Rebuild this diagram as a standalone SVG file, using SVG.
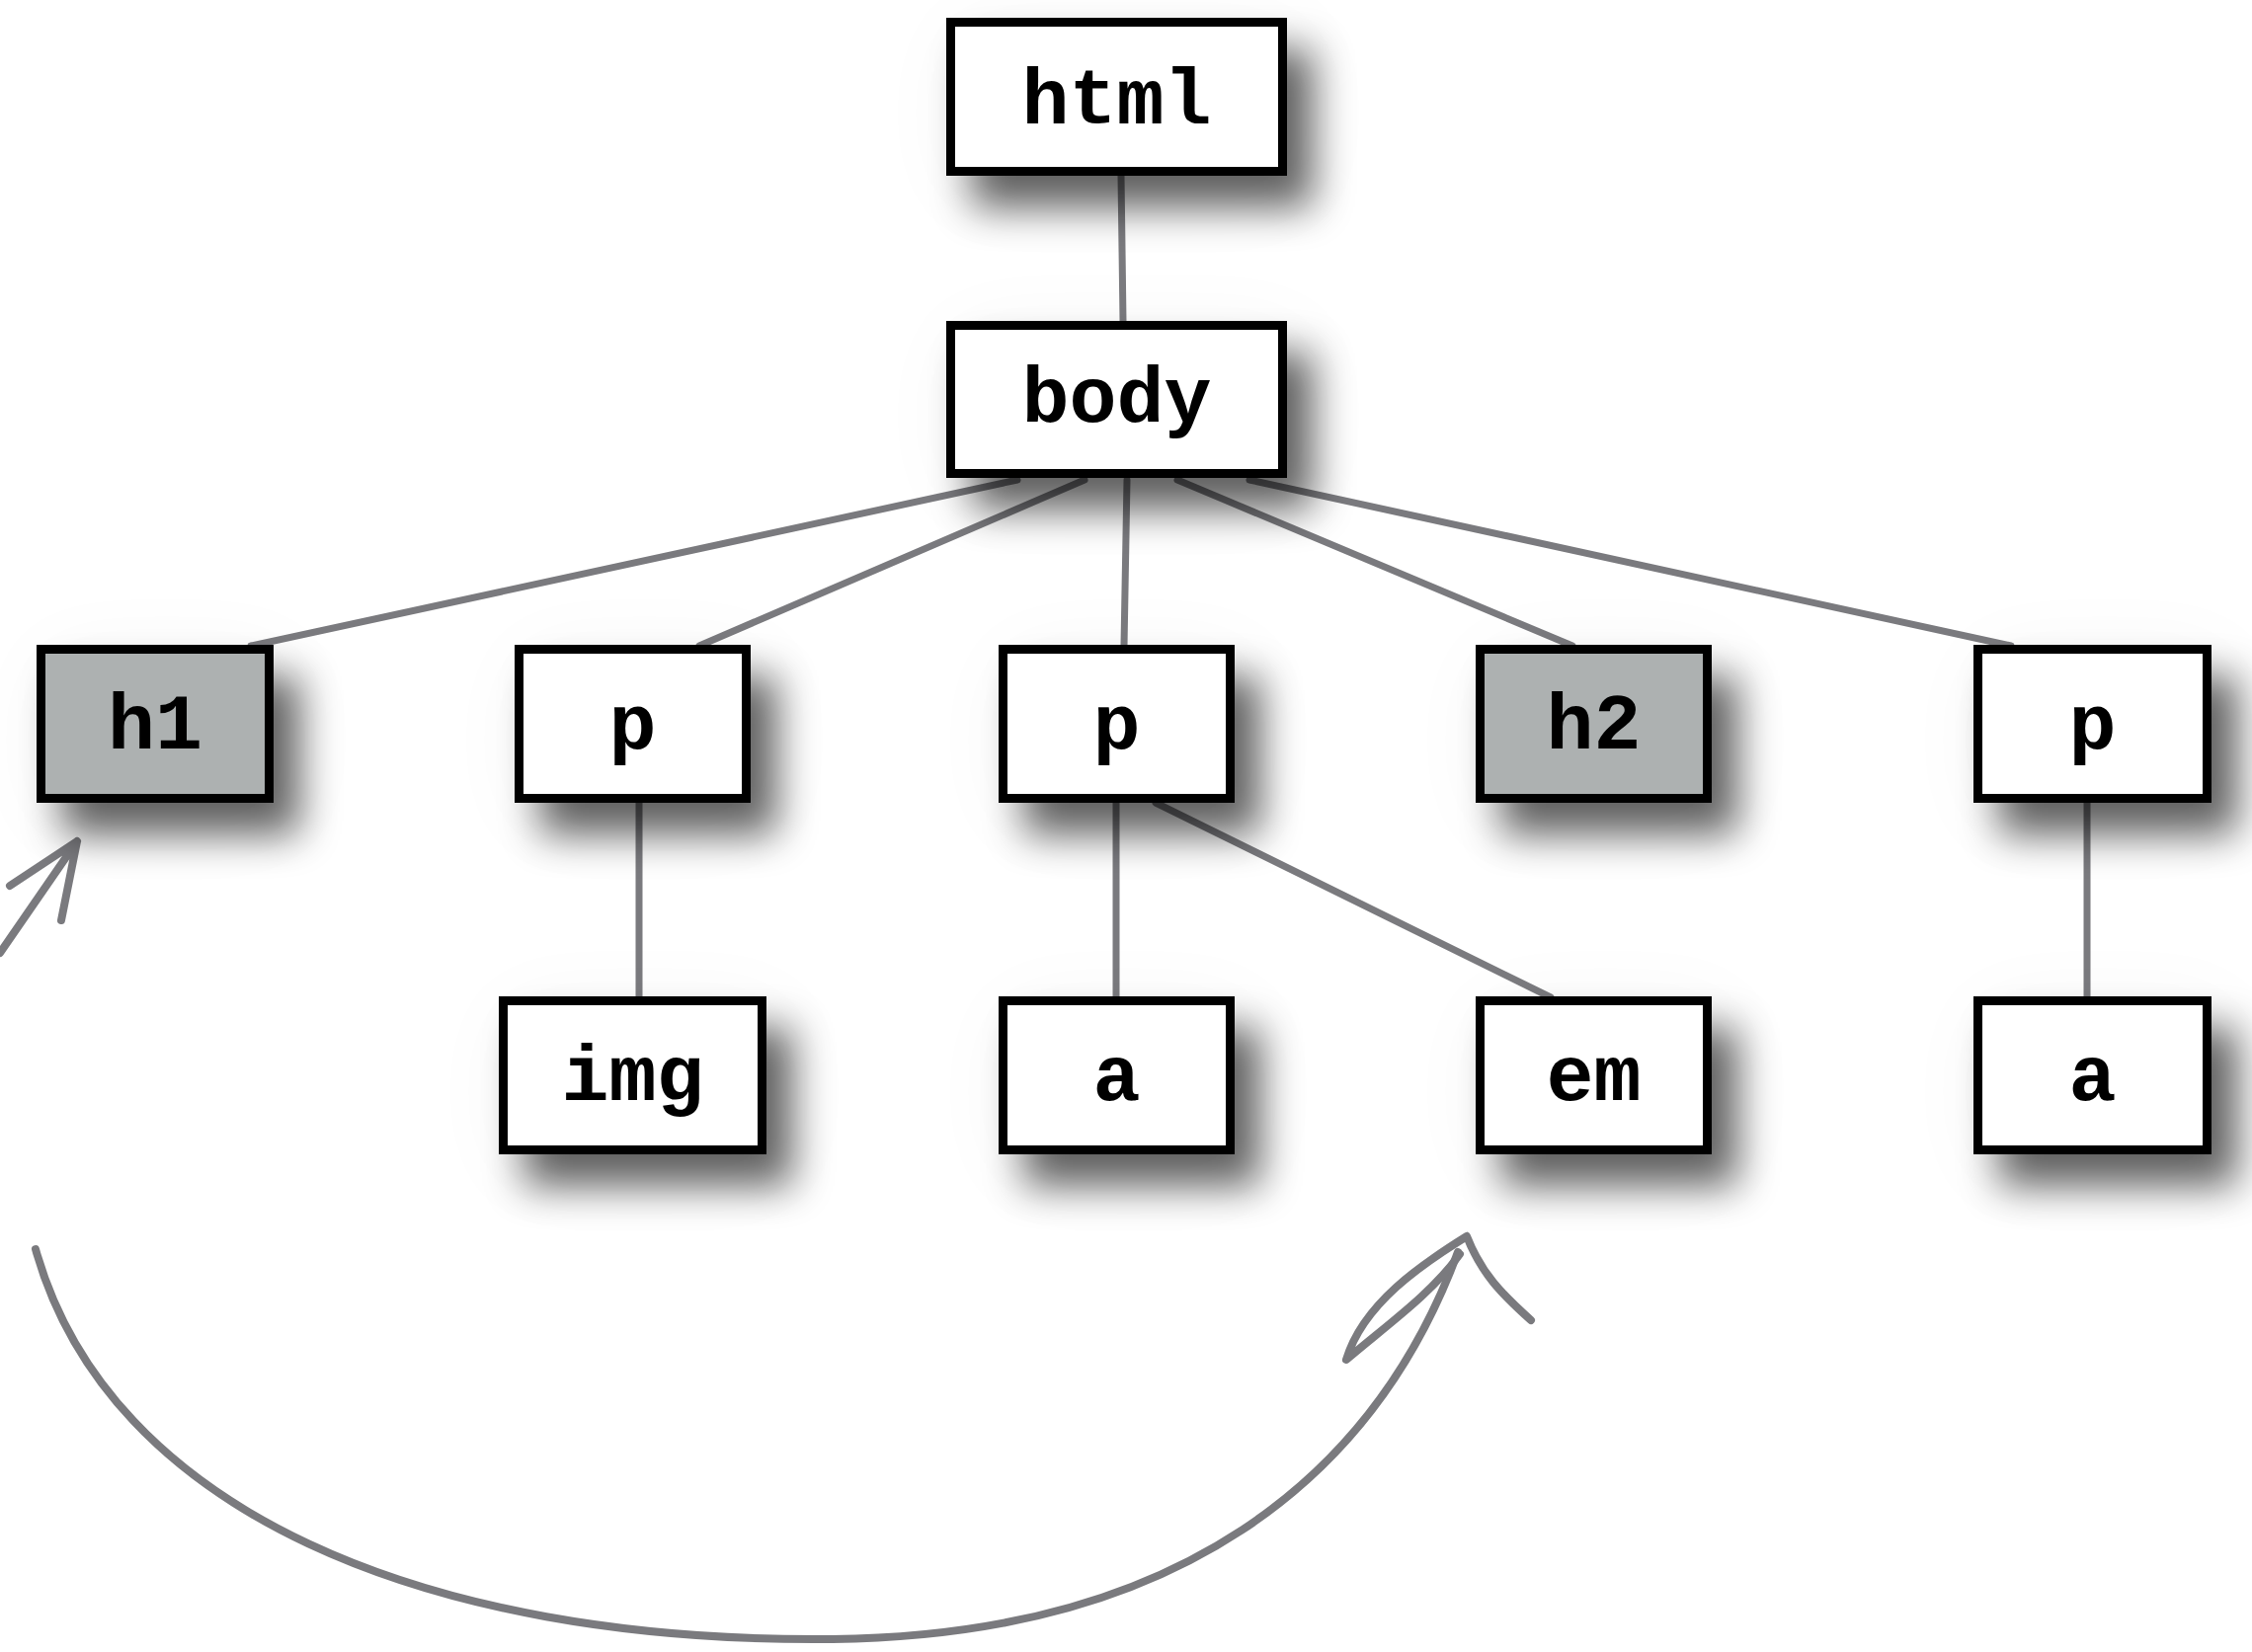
<svg xmlns="http://www.w3.org/2000/svg" width="2280" height="1673" viewBox="0 0 2280 1673">
<defs>
<filter id="sh" x="-40%" y="-50%" width="200%" height="240%">
<feGaussianBlur in="SourceAlpha" stdDeviation="20" result="b"/>
<feOffset in="b" dx="26" dy="32" result="o"/>
<feComponentTransfer in="o" result="s"><feFuncA type="linear" slope="0.62"/></feComponentTransfer>
<feGaussianBlur in="SourceAlpha" stdDeviation="45" result="h"/>
<feOffset in="h" dx="12" dy="16" result="ho"/>
<feComponentTransfer in="ho" result="hs"><feFuncA type="linear" slope="0.05"/></feComponentTransfer>
<feMerge><feMergeNode in="hs"/><feMergeNode in="s"/><feMergeNode in="SourceGraphic"/></feMerge>
</filter>
</defs>
<style>
.box{fill:#ffffff;stroke:#000000;stroke-width:9;filter:url(#sh)}
.hl{fill:#adb1b1}
.lbl{font-family:"Liberation Mono","Courier New",monospace;font-weight:bold;font-size:80px;fill:#000000;text-anchor:middle}
.edge{stroke:#7a7a7e;stroke-width:7;fill:none;stroke-linecap:round}
.arr{stroke:#7a7a7e;stroke-width:8;fill:none;stroke-linecap:round;stroke-linejoin:round}
</style>
<rect width="2280" height="1673" fill="#ffffff"/>
<g id="connectors">
<line class="edge" x1="1135" y1="178" x2="1137" y2="325"/>
<line class="edge" x1="1030" y1="486" x2="254" y2="654"/>
<line class="edge" x1="1098" y1="486" x2="708" y2="654"/>
<line class="edge" x1="1141" y1="486" x2="1138" y2="654"/>
<line class="edge" x1="1192" y1="486" x2="1592" y2="654"/>
<line class="edge" x1="1265" y1="486" x2="2036" y2="654"/>
<line class="edge" x1="647" y1="813" x2="647" y2="1009"/>
<line class="edge" x1="1130" y1="813" x2="1130" y2="1009"/>
<line class="edge" x1="1170" y1="813" x2="1570" y2="1010"/>
<line class="edge" x1="2113" y1="813" x2="2113" y2="1009"/>
</g>
<g id="arrows">
<path class="arr" d="M0,965 L78,852 M10,897 L78,852 L62,932"/>
<path class="arr" d="M36,1265 C110,1530 430,1664 843,1660 C1190,1656 1390,1500 1476,1268"/>
<path class="arr" d="M1485,1252 C1500,1290 1520,1310 1550,1337 M1485,1252 C1440,1280 1380,1320 1363,1377 C1400,1345 1450,1310 1478,1270"/>
</g>
<g id="n-html"><rect class="box" x="962.5" y="22.5" width="336" height="151"/><text class="lbl" x="1130.5" y="125">html</text></g>
<g id="n-body"><rect class="box" x="962.5" y="329.5" width="336" height="150"/><text class="lbl" x="1130.5" y="427">body</text></g>
<g id="n-h1"><rect class="box hl" x="41.5" y="657.5" width="231" height="151"/><text class="lbl" x="157" y="758">h1</text></g>
<g id="n-p1"><rect class="box" x="525.5" y="657.5" width="230" height="151"/><text class="lbl" x="640.5" y="758">p</text></g>
<g id="n-p2"><rect class="box" x="1015.5" y="657.5" width="230" height="151"/><text class="lbl" x="1130.5" y="758">p</text></g>
<g id="n-h2"><rect class="box hl" x="1498.5" y="657.5" width="230" height="151"/><text class="lbl" x="1613.5" y="758">h2</text></g>
<g id="n-p3"><rect class="box" x="2002.5" y="657.5" width="232" height="151"/><text class="lbl" x="2118.5" y="758">p</text></g>
<g id="n-img"><rect class="box" x="509.5" y="1013.5" width="262" height="151"/><text class="lbl" x="640.5" y="1114">img</text></g>
<g id="n-a1"><rect class="box" x="1015.5" y="1013.5" width="230" height="151"/><text class="lbl" x="1130.5" y="1114">a</text></g>
<g id="n-em"><rect class="box" x="1498.5" y="1013.5" width="230" height="151"/><text class="lbl" x="1613.5" y="1114">em</text></g>
<g id="n-a2"><rect class="box" x="2002.5" y="1013.5" width="232" height="151"/><text class="lbl" x="2118.5" y="1114">a</text></g>
</svg>
